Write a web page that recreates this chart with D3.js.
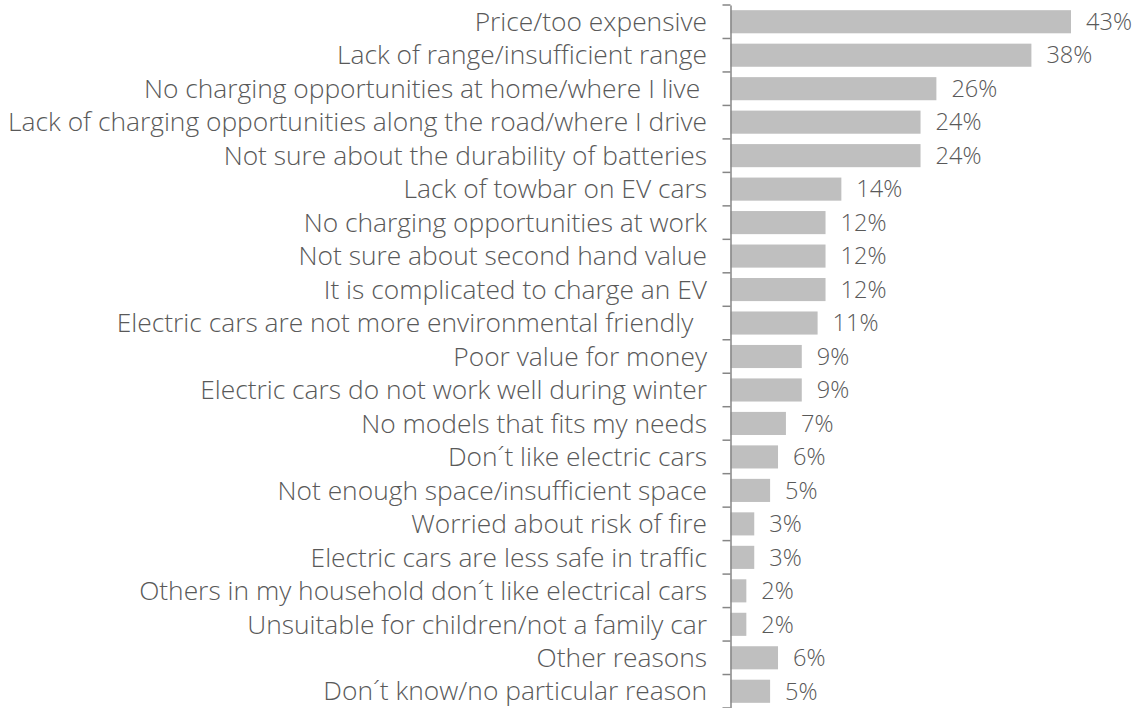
<!DOCTYPE html>
<html><head><meta charset="utf-8">
<script src="https://cdn.jsdelivr.net/npm/d3@7"></script>
<style>
html,body{margin:0;padding:0;background:#fff;}
svg text{white-space:pre;}
</style></head>
<body>
<svg id="chart" width="1135" height="708"></svg>
<script>
const categories = [
  "Price/too expensive",
  "Lack of range/insufficient range",
  "No charging opportunities at home/where I live ",
  "Lack of charging opportunities along the road/where I drive",
  "Not sure about the durability of batteries",
  "Lack of towbar on EV cars",
  "No charging opportunities at work",
  "Not sure about second hand value",
  "It is complicated to charge an EV",
  "Electric cars are not more environmental friendly  ",
  "Poor value for money",
  "Electric cars do not work well during winter",
  "No models that fits my needs",
  "Don´t like electric cars",
  "Not enough space/insufficient space",
  "Worried about risk of fire",
  "Electric cars are less safe in traffic",
  "Others in my household don´t like electrical cars",
  "Unsuitable for children/not a family car",
  "Other reasons",
  "Don´t know/no particular reason"
];
const values = [43, 38, 26, 24, 24, 14, 12, 12, 12, 11, 9, 9, 7, 6, 5, 3, 3, 2, 2, 6, 5];
const valueLabels = values.map(v => v + "%");

const svg = d3.select("#chart");
const axisX = 730.5;
const FONT = "'Open Sans', sans-serif";
const WEIGHT = 300;
const textColor = "#595959";

const x = d3.scaleLinear().domain([0, 43]).range([axisX, 1071]);
const y = d3.scaleBand().domain(categories).range([5, 708]).paddingInner(0.31).paddingOuter(0.155);

function fitSize(str, target) {
  const p = svg.append("text").attr("font-family", FONT).attr("font-weight", WEIGHT)
    .attr("font-size", 20).text(str);
  const w = p.node().getComputedTextLength();
  p.remove();
  return 20 * target / w;
}
const fs = fitSize("Lack of charging opportunities along the road/where I drive", 699);
const fsv = Math.min(fs, fitSize("43%", 46));

// bars
svg.append("g").selectAll("rect").data(categories).join("rect")
  .attr("x", axisX)
  .attr("y", d => y(d))
  .attr("width", (d, i) => x(values[i]) - axisX)
  .attr("height", y.bandwidth())
  .attr("fill", "#bfbfbf");

// axis
const axis = d3.axisLeft(y).tickSize(0).tickFormat("");
const gA = svg.append("g").attr("transform", `translate(${axisX},0)`).call(axis);
gA.select(".domain").attr("stroke", "#868686").attr("stroke-width", 1.5);
const step = y.step();
const bounds = d3.range(categories.length + 1).map(i => 5 + i * step);
svg.append("g").selectAll("line").data(bounds).join("line")
  .attr("x1", axisX - 8).attr("x2", axisX)
  .attr("y1", d => d).attr("y2", d => d)
  .attr("stroke", "#868686").attr("stroke-width", 1.5);

// category labels
svg.append("g").selectAll("text").data(categories).join("text")
  .attr("x", 707)
  .attr("y", d => y(d) + y.bandwidth() / 2)
  .attr("dy", "0.35em")
  .attr("text-anchor", "end")
  .attr("font-family", FONT)
  .attr("font-weight", WEIGHT)
  .attr("font-size", fs)
  .attr("fill", textColor)
  .text(d => d);

// value labels
svg.append("g").selectAll("text").data(categories).join("text")
  .attr("x", (d, i) => x(values[i]) + 15)
  .attr("y", d => y(d) + y.bandwidth() / 2)
  .attr("dy", "0.35em")
  .attr("font-family", FONT)
  .attr("font-weight", WEIGHT)
  .attr("font-size", fsv)
  .attr("fill", textColor)
  .text((d, i) => valueLabels[i]);
</script>
</body></html>
